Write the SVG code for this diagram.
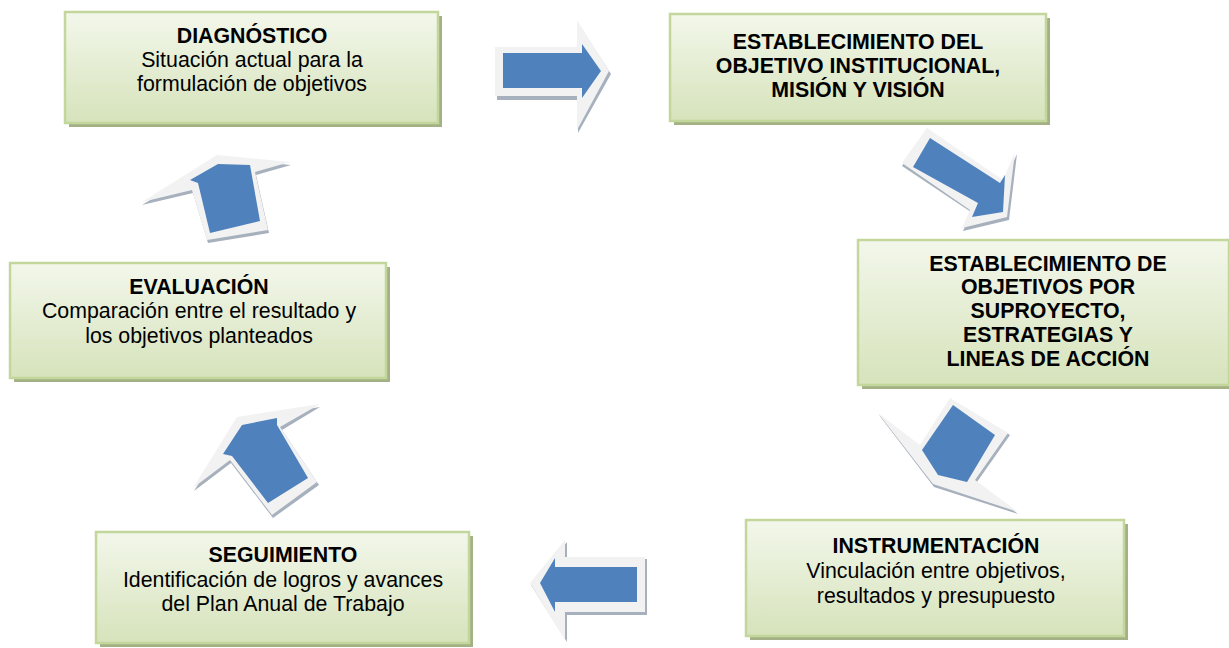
<svg xmlns="http://www.w3.org/2000/svg" width="1229" height="648" viewBox="0 0 1229 648">
<defs>
<linearGradient id="boxfill" x1="0" y1="0" x2="0" y2="1">
<stop offset="0" stop-color="#f3f7eb"/>
<stop offset="1" stop-color="#d6e3bb"/>
</linearGradient>
</defs>
<style>
.shadow{fill:#a3b184;}
.box{fill:url(#boxfill);stroke:#c3d69b;stroke-width:2.5;}
.t{font-family:"Liberation Sans",Arial,sans-serif;font-size:21.33px;fill:#000;text-anchor:middle;}
.b{font-weight:bold;}
.ash{fill:#a7b0bd;}
.agr{fill:#f2f2f2;}
.abl{fill:#4f81bd;}
</style>
<rect width="1229" height="648" fill="#ffffff"/>

<g id="connectors">
<g id="arrow1">
<polygon class="ash" points="497,50 578,50 578,23 611,74 578,133 578,100 497,100"/>
<polygon class="agr" points="495,47 577,47 577,20 609,71 577,130 577,96 495,96"/>
<polygon class="abl" points="503,53 582,53 582,44 601,71 582,98 582,88 503,88"/>
</g>
<g id="arrow2">
<polygon class="ash" points="928,130 1004,182 1017,154 1009,220 963,231 971,212 902,166"/>
<polygon class="agr" points="927,128 1003,180 1015,152 1007,217 962,228 970,210 902,163"/>
<polygon class="abl" points="930,138 1000,183 1005,175 1003,212 972,217 978,203 913,167"/>
</g>
<g id="arrow3">
<polygon class="ash" points="879,415 921,447 951,400 1010,435 977,482 1018,514 934,487"/>
<polygon class="agr" points="878,413 920,445 950,398 1008,433 975,480 1018,512 933,484"/>
<polygon class="abl" points="953,405 995,435 967,482 938,475 922,450"/>
</g>
<g id="arrow4">
<polygon class="ash" points="531,585 567,542 567,559 647,559 647,615 567,615 567,642"/>
<polygon class="agr" points="530,583 565,540 565,557 645,557 645,612 565,612 565,640"/>
<polygon class="abl" points="540,583 555,558 555,567 637,567 637,602 555,602 555,612"/>
</g>
<g id="arrow5">
<polygon class="ash" points="194,491 238,420 320,407 282,430 319,485 273,518 231,463"/>
<polygon class="agr" points="193,488 237,417 320,404 280,427 317,482 272,515 230,460"/>
<polygon class="abl" points="223,454 242,425 277,418 277,425 308,478 268,503 232,456"/>
</g>
<g id="arrow6">
<polygon class="ash" points="142,205 218,158 291,165 256,175 269,233 208,243 193,193"/>
<polygon class="agr" points="142,202 217,155 290,162 255,172 268,230 207,240 192,190"/>
<polygon class="abl" points="190,180 218,164 250,165 260,221 210,233 198,183"/>
</g>
</g>

<g id="node-diagnostico">
<rect class="shadow" x="69" y="16" width="373" height="111"/>
<rect class="box" x="65" y="12" width="373" height="111"/>
<text class="t b" x="252" y="43">DIAGNÓSTICO</text>
<text class="t" x="252" y="67">Situación actual para la</text>
<text class="t" x="252" y="91">formulación de objetivos</text>
</g>

<g id="node-objetivo-institucional">
<rect class="shadow" x="674" y="18" width="376" height="107"/>
<rect class="box" x="670" y="14" width="376" height="107"/>
<text class="t b" x="858" y="49">ESTABLECIMIENTO DEL</text>
<text class="t b" x="858" y="73">OBJETIVO INSTITUCIONAL,</text>
<text class="t b" x="858" y="97">MISIÓN Y VISIÓN</text>
</g>

<g id="node-objetivos-subproyecto">
<rect class="shadow" x="862" y="244" width="371" height="145"/>
<rect class="box" x="858" y="240" width="371" height="145"/>
<text class="t b" x="1048" y="271">ESTABLECIMIENTO DE</text>
<text class="t b" x="1048" y="294">OBJETIVOS POR</text>
<text class="t b" x="1048" y="318">SUPROYECTO,</text>
<text class="t b" x="1048" y="342">ESTRATEGIAS Y</text>
<text class="t b" x="1048" y="366">LINEAS DE ACCIÓN</text>
</g>

<g id="node-instrumentacion">
<rect class="shadow" x="750" y="524" width="378" height="116"/>
<rect class="box" x="746" y="520" width="378" height="116"/>
<text class="t b" x="936" y="553">INSTRUMENTACIÓN</text>
<text class="t" x="936" y="578">Vinculación entre objetivos,</text>
<text class="t" x="936" y="603">resultados y presupuesto</text>
</g>

<g id="node-seguimiento">
<rect class="shadow" x="100" y="536" width="373" height="111"/>
<rect class="box" x="96" y="532" width="373" height="111"/>
<text class="t b" x="283" y="562">SEGUIMIENTO</text>
<text class="t" x="283" y="587">Identificación de logros y avances</text>
<text class="t" x="283" y="611">del Plan Anual de Trabajo</text>
</g>

<g id="node-evaluacion">
<rect class="shadow" x="14" y="267" width="376" height="115"/>
<rect class="box" x="10" y="263" width="376" height="115"/>
<text class="t b" x="199" y="294">EVALUACIÓN</text>
<text class="t" x="199" y="318">Comparación entre el resultado y</text>
<text class="t" x="199" y="343">los objetivos planteados</text>
</g>
</svg>
